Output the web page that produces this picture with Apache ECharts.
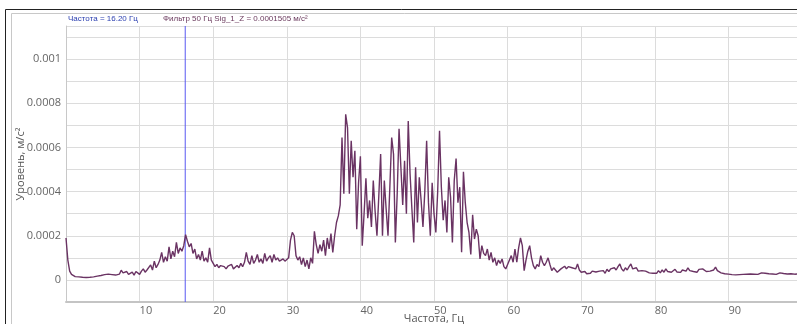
<!DOCTYPE html>
<html>
<head>
<meta charset="utf-8">
<script src="https://cdn.jsdelivr.net/npm/echarts@6/dist/echarts.min.js"></script>
<style>
html, body { margin: 0; padding: 0; background: #fff; }
#chart-spectrum { width: 797px; height: 324px; }
</style>
</head>
<body>
<div id="chart-spectrum"></div>
<script>
// spectrum level, units of 1e-4 m/s2, one value every 0.25 Hz
var step = 0.25;
var band00 = [1.9, 0.9, 0.4, 0.25, 0.2, 0.15, 0.18, 0.14, 0.16, 0.12, 0.15, 0.11, 0.1, 0.12, 0.1, 0.14, 0.2, 0.17, 0.22, 0.2,
	0.18, 0.24, 0.2, 0.26, 0.3, 0.24, 0.28, 0.22, 0.3, 0.26, 0.44, 0.32, 0.28, 0.38, 0.25, 0.3, 0.35, 0.22, 0.38, 0.3];
var band10 = [0.25, 0.4, 0.5, 0.35, 0.45, 0.38, 0.68, 0.45, 0.85, 0.55, 0.7, 0.9, 1.25, 0.8, 1.05, 0.85, 1.5, 0.95, 1.3, 1.05,
	1.7, 1.2, 1.45, 1.3, 1.55, 2.05, 1.75, 1.5, 1.65, 1.2, 1.4, 0.95, 1.15, 0.9, 1.3, 0.85, 1.0, 0.8, 1.45, 0.9];
var band20 = [0.75, 0.6, 0.7, 0.55, 0.65, 0.72, 0.6, 0.5, 0.62, 0.55, 0.7, 0.5, 0.58, 0.65, 0.55, 0.75, 0.6, 0.8, 1.25, 0.85,
	0.7, 1.1, 0.75, 0.9, 1.15, 0.8, 0.95, 0.75, 1.2, 0.85, 1.0, 1.1, 0.8, 1.15, 0.9, 1.0, 0.85, 0.9, 0.95, 0.85];
var band30 = [0.9, 1.0, 1.8, 2.15, 2.0, 1.1, 0.9, 1.05, 0.7, 1.0, 0.6, 0.9, 0.5, 1.0, 0.75, 2.2, 1.6, 1.2, 1.6, 1.3,
	1.8, 1.1, 1.9, 1.4, 2.1, 1.25, 2.0, 2.6, 2.9, 3.4, 6.45, 3.9, 7.5, 6.9, 3.9, 6.3, 4.65, 5.85, 2.3, 4.4];
var band40 = [5.6, 1.55, 3.0, 4.6, 2.8, 3.6, 2.4, 4.5, 3.1, 2.0, 3.8, 5.7, 2.0, 4.5, 3.2, 2.0, 4.2, 6.45, 5.7, 1.7,
	3.9, 6.85, 5.1, 3.4, 5.4, 3.0, 7.2, 4.8, 3.2, 1.7, 5.1, 2.6, 4.65, 3.6, 2.4, 4.0, 6.3, 3.5, 2.0, 4.4];
var band50 = [3.0, 2.15, 4.0, 6.75, 4.2, 2.7, 3.6, 2.15, 4.65, 3.75, 1.7, 4.5, 5.5, 3.5, 4.2, 1.25, 4.9, 3.5, 2.6, 2.15,
	1.15, 2.95, 1.85, 2.3, 2.0, 0.95, 1.55, 1.2, 1.1, 1.4, 0.9, 1.25, 0.8, 1.0, 0.65, 0.9, 0.75, 0.95, 0.6, 0.5];
var band60 = [0.7, 0.65, 1.1, 0.8, 1.4, 0.8, 1.45, 1.9, 1.55, 0.42, 0.9, 1.3, 1.55, 1.0, 0.65, 0.5, 0.7, 0.6, 1.1, 0.8,
	0.65, 0.8, 1.0, 0.7, 0.42, 0.55, 0.45, 0.35, 0.4, 0.5, 0.55, 0.62, 0.5, 0.6, 0.65, 0.55, 0.6, 0.5, 0.72, 0.45];
var band70 = [0.35, 0.3, 0.38, 0.28, 0.35, 0.3, 0.4, 0.32, 0.36, 0.28, 0.4, 0.34, 0.42, 0.3, 0.48, 0.38, 0.5, 0.42, 0.55, 0.45,
	0.6, 0.72, 0.5, 0.4, 0.55, 0.45, 0.6, 0.72, 0.5, 0.42, 0.55, 0.4, 0.35, 0.42, 0.33, 0.4, 0.36, 0.32, 0.38, 0.3];
var band80 = [0.35, 0.3, 0.42, 0.32, 0.45, 0.35, 0.5, 0.38, 0.45, 0.35, 0.4, 0.48, 0.36, 0.42, 0.34, 0.45, 0.52, 0.4, 0.55, 0.42,
	0.5, 0.38, 0.45, 0.35, 0.48, 0.4, 0.5, 0.42, 0.38, 0.46, 0.4, 0.36, 0.45, 0.58, 0.42, 0.36, 0.32, 0.3, 0.28, 0.3];
var band90 = [0.26, 0.28, 0.24, 0.27, 0.23, 0.26, 0.24, 0.28, 0.25, 0.3, 0.26, 0.23, 0.27, 0.24, 0.26, 0.3, 0.25, 0.28, 0.32, 0.27,
	0.3, 0.25, 0.28, 0.24, 0.27, 0.3, 0.25, 0.28, 0.32, 0.26, 0.29, 0.33, 0.27, 0.24, 0.28, 0.3, 0.26, 0.29, 0.27, 0.28];

var cursorFreq = 16.2;
var cursorText = 'Частота = 16.20 Гц';
var filterText = 'Фильтр 50 Гц Sig_1_Z = 0.0001505 м/с²';

var yMin = -1, yMax = 11.5;

var level = [].concat(band00, band10, band20, band30, band40, band50, band60, band70, band80, band90);
var points = [];
for (var i = 0; i < level.length; i++) {
	points.push([ i * step, level[i] ]);
}

var labelFont = 'Open Sans';

var option = {
	animation : false,
	backgroundColor : '#fff',
	grid : {
		left : 66,
		top : 26,
		width : 736,
		bottom : 22,
		outerBoundsMode : 'none',
		containLabel : false
	},
	graphic : [ {
		type : 'line',
		shape : { x1 : 5.5, y1 : 9.5, x2 : 797, y2 : 9.5 },
		style : { stroke : '#222', lineWidth : 1 }
	}, {
		type : 'line',
		shape : { x1 : 5.5, y1 : 9.5, x2 : 5.5, y2 : 324 },
		style : { stroke : '#222', lineWidth : 1 }
	}, {
		type : 'line',
		shape : { x1 : 11.5, y1 : 13.5, x2 : 797, y2 : 13.5 },
		style : { stroke : '#c8c8c8', lineWidth : 1 }
	}, {
		type : 'line',
		shape : { x1 : 11.5, y1 : 13.5, x2 : 11.5, y2 : 324 },
		style : { stroke : '#c8c8c8', lineWidth : 1 }
	}, {
		type : 'text',
		left : 68,
		top : 15,
		style : { text : cursorText, fill : '#2b3fb0', font : '8px "Liberation Sans"' }
	}, {
		type : 'text',
		left : 163,
		top : 15,
		style : { text : filterText, fill : '#6b3a5e', font : '8px "Liberation Sans"' }
	} ],
	xAxis : {
		type : 'value',
		min : 0,
		max : 100,
		interval : 10,
		name : 'Частота, Гц',
		nameLocation : 'middle',
		nameGap : 11,
		nameMoveOverlap : false,
		nameTextStyle : { color : '#555', fontSize : 11, fontFamily : labelFont },
		axisLine : { onZero : false, lineStyle : { color : '#c4c4c4', width : 2 } },
		axisTick : { show : false },
		axisLabel : {
			color : '#666',
			fontSize : 11,
			fontFamily : labelFont,
			align : 'left',
			margin : 3,
			formatter : function(v) {
				return v === 0 ? '' : String(v);
			}
		},
		splitLine : { show : true, lineStyle : { color : '#dcdcdc', width : 1 } }
	},
	yAxis : {
		type : 'value',
		min : yMin,
		max : yMax,
		interval : 1,
		name : 'Уровень, м/с²',
		nameLocation : 'middle',
		nameGap : 40,
		nameMoveOverlap : false,
		nameTextStyle : { color : '#555', fontSize : 11, fontFamily : labelFont },
		axisLine : { show : true, lineStyle : { color : '#c8c8c8', width : 1 } },
		axisTick : { show : false },
		axisLabel : {
			color : '#666',
			fontSize : 11,
			fontFamily : labelFont,
			margin : 5,
			formatter : function(v) {
				if (v < 0 || Math.round(v) !== v || v % 2 !== 0)
					return '';
				return String(parseFloat((v * 1e-4).toFixed(4)));
			}
		},
		splitLine : { show : true, lineStyle : { color : '#dcdcdc', width : 1 } }
	},
	series : [ {
		name : 'cursor',
		type : 'line',
		silent : true,
		showSymbol : false,
		data : [ [ cursorFreq, yMin ], [ cursorFreq, yMax ] ],
		itemStyle : { color : '#5858f2' },
		lineStyle : { color : '#5858f2', width : 1 },
		z : 1
	}, {
		name : 'Sig_1_Z',
		type : 'line',
		data : points,
		showSymbol : false,
		itemStyle : { color : '#6a3363' },
		lineStyle : { color : '#6a3363', width : 1.4 },
		z : 2
	} ]
};

var chart = echarts.init(document.getElementById('chart-spectrum'));
chart.setOption(option);
</script>
</body>
</html>
